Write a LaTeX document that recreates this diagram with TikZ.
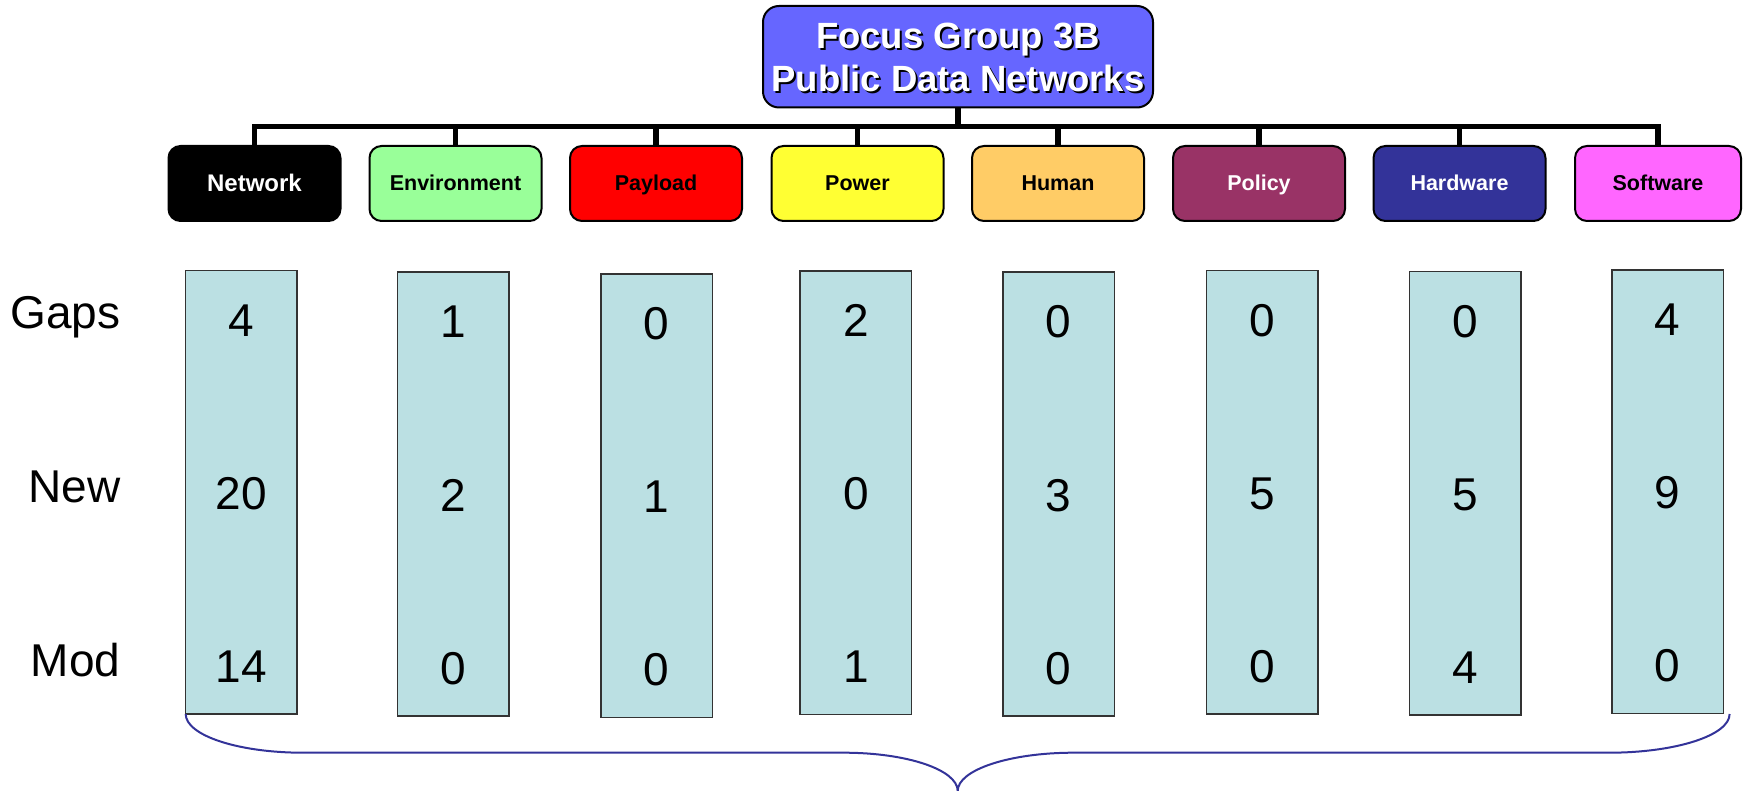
\documentclass[tikz,border=0pt]{standalone}
\usepackage{fontspec}
\setmainfont{Liberation Sans}
\usetikzlibrary{calc}
\definecolor{topblue}{HTML}{6666FF}
\definecolor{colfill}{HTML}{BBE0E3}
\definecolor{envgreen}{HTML}{99FF99}
\definecolor{payred}{HTML}{FF0000}
\definecolor{powyellow}{HTML}{FFFF33}
\definecolor{humorange}{HTML}{FFCC66}
\definecolor{polplum}{HTML}{993366}
\definecolor{hwblue}{HTML}{333399}
\definecolor{swpink}{HTML}{FF66FF}
\definecolor{bracecol}{HTML}{333399}
\begin{document}
\begin{tikzpicture}[x=1pt,y=-1pt,
  topbox/.style={draw=black, line width=2pt, fill=topblue, rounded corners=16pt,
    minimum width=390pt, minimum height=101.5pt, inner sep=0pt},
  toptext/.style={anchor=base, font=\fontsize{36.5}{44}\selectfont\bfseries},
  cat/.style={draw=black, line width=2pt, rounded corners=12pt, minimum width=172pt,
    minimum height=75pt, inner sep=0pt, font=\fontsize{21.5}{25}\selectfont\bfseries,
    text height=15pt, text depth=0pt},
  conn/.style={line width=5.5pt, line join=miter},
  vcol/.style={draw=black!80, line width=1.5pt, fill=colfill, minimum width=111.5pt,
    minimum height=443.5pt, inner sep=0pt},
  num/.style={anchor=base, font=\fontsize{46}{55}\selectfont},
  lbl/.style={anchor=base east, font=\fontsize{46}{55}\selectfont},
  bracestyle/.style={draw=bracecol, line width=2pt}
]
\useasboundingbox (0,0) rectangle (1743,791);

% top box
\node[topbox] (top) at (958,56.75) {};
\node[toptext, text=black] (t1s) at (960,50.3) {Focus Group 3B};
\node[toptext, text=white] (t1) at (958,48.3) {Focus Group 3B};
\node[toptext, text=black] (t2s) at (960,93.7) {Public Data Networks};
\node[toptext, text=white] (t2) at (958,91.7) {Public Data Networks};

% category boxes
\node[cat, fill=black, text=white, font=\fontsize{24}{28}\selectfont\bfseries,
      text height=17pt] (c1) at (254.5,183.5) {Network};
\node[cat, fill=envgreen, text=black] (c2) at (455.5,183.5) {Environment};
\node[cat, fill=payred, text=black] (c3) at (656,183.5) {Payload};
\node[cat, fill=powyellow, text=black] (c4) at (857.5,183.5) {Power};
\node[cat, fill=humorange, text=black] (c5) at (1058,183.5) {Human};
\node[cat, fill=polplum, text=white] (c6) at (1259,183.5) {Policy};
\node[cat, fill=hwblue, text=white] (c7) at (1459.5,183.5) {Hardware};
\node[cat, fill=swpink, text=black, minimum width=166pt] (c8) at (1658,183.5) {Software};

% connectors
\coordinate (bus) at (958,126.3);
\draw[conn] (top.south) -- (bus);
\foreach \c in {c1,c2,c3,c4,c5,c6,c7,c8}{
  \draw[conn] (bus) -| (\c.north);
}

% row labels
\node[lbl] (gaps) at (124,328.3) {Gaps};
\node[lbl] (new) at (124,502.7) {New};
\node[lbl] (mod) at (124,676) {Mod};

% value columns
\foreach \i/\x/\y/\a/\b/\c in {1/241.2/492.35/4/20/14, 2/453.35/494/1/2/0,
    3/656.5/495.65/0/1/0, 4/855.85/492.65/2/0/1, 5/1058.5/494/0/3/0,
    6/1262.2/492.35/0/5/0, 7/1465/493.35/0/5/4, 8/1667.5/491.7/4/9/0}{
  \node[vcol] (v\i) at (\x,\y) {};
  \node[num] (g\i) at ($(v\i.north)+(0,66.5)$) {\a};
  \node[num] (n\i) at ($(v\i.north)+(0,239.5)$) {\b};
  \node[num] (m\i) at ($(v\i.north)+(0,412.5)$) {\c};
}

% brace
\coordinate (bl) at (185.7,714);
\coordinate (br) at (1729.6,714);
\coordinate (tip) at (957.7,791);
\draw[bracestyle] (bl) .. controls +(0,21.4) and +(-64.8,0) .. ($(bl)+(117.3,38.7)$)
  -- ($(tip)+(-113.7,-38.3)$) .. controls +(63,0) and +(0,-21.2) .. (tip)
  .. controls +(0,-21.2) and +(-63.8,0) .. ($(tip)+(115.8,-38.3)$)
  -- ($(br)+(-120.6,38.7)$) .. controls +(66.6,0) and +(0,21.4) .. (br);
\end{tikzpicture}
\end{document}
